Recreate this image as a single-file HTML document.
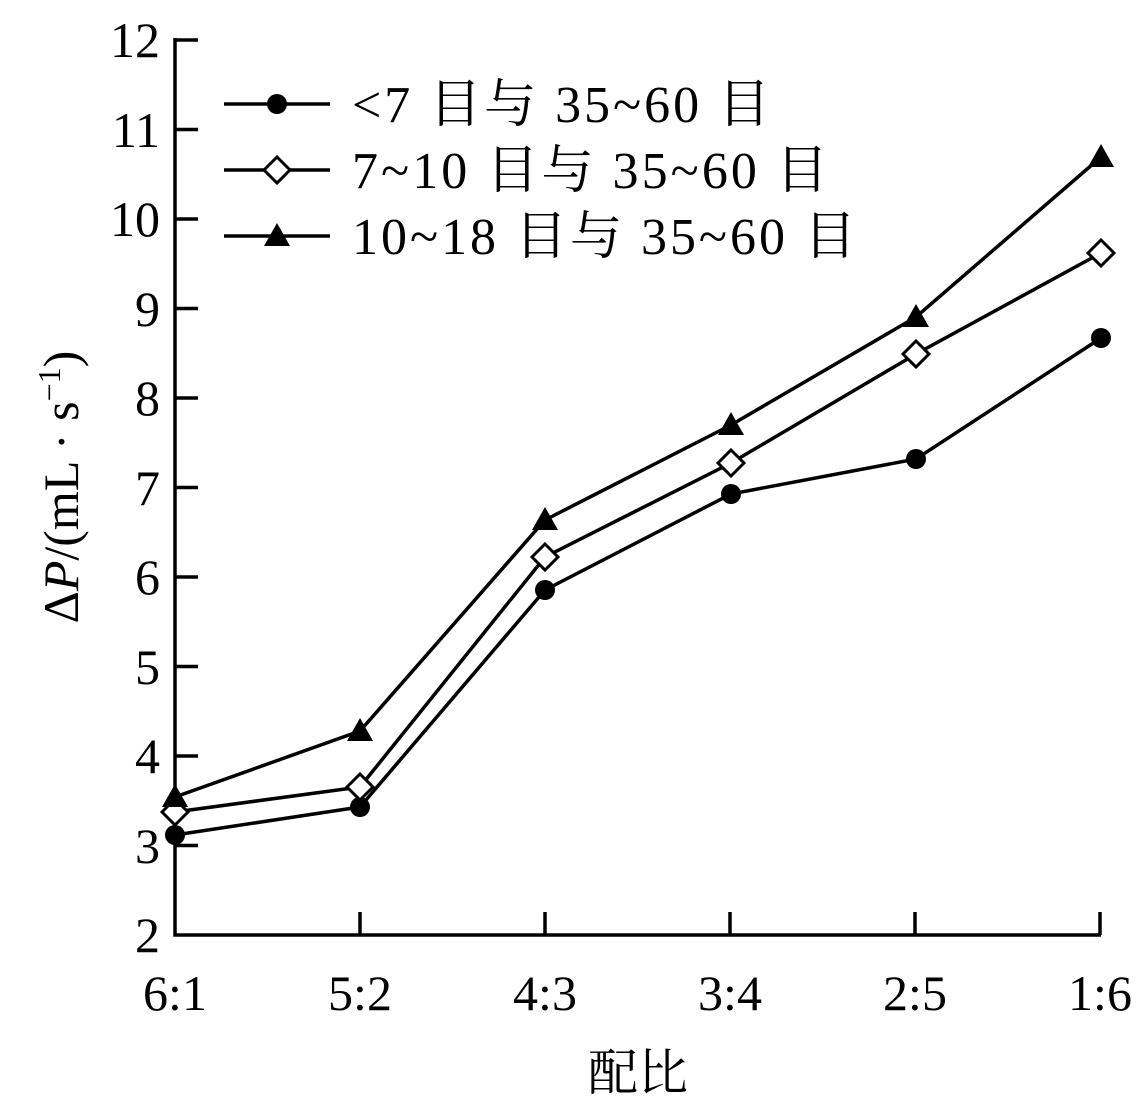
<!DOCTYPE html>
<html><head><meta charset="utf-8"><style>
body{margin:0;background:#fff}
svg text{font-family:"Liberation Serif","Noto Serif CJK SC",serif;fill:#000}
</style></head><body>
<svg width="1138" height="1109" viewBox="0 0 1138 1109" xmlns="http://www.w3.org/2000/svg">
<g stroke="#000" stroke-width="3.5" fill="none">
<polyline points="175,38 175,935 1101,935"/>
<line x1="175" y1="40" x2="198" y2="40"/><line x1="175" y1="129.5" x2="198" y2="129.5"/>
<line x1="175" y1="219" x2="198" y2="219"/><line x1="175" y1="308.5" x2="198" y2="308.5"/>
<line x1="175" y1="398" x2="198" y2="398"/><line x1="175" y1="487.5" x2="198" y2="487.5"/>
<line x1="175" y1="577" x2="198" y2="577"/><line x1="175" y1="666.5" x2="198" y2="666.5"/>
<line x1="175" y1="756" x2="198" y2="756"/><line x1="175" y1="845.5" x2="198" y2="845.5"/>
<line x1="360" y1="935" x2="360" y2="912"/><line x1="545" y1="935" x2="545" y2="912"/>
<line x1="730" y1="935" x2="730" y2="912"/><line x1="915" y1="935" x2="915" y2="912"/>
<line x1="1100" y1="935" x2="1100" y2="912"/>
<polyline points="175,835 360,807 545,590 731,494 916,459 1101,338"/>
<polyline points="175,812 360,787 545,557 731,463 916,354 1101,253"/>
<polyline points="175,797 360,731 545,520 731,425 916,317 1101,157"/>
<line x1="224" y1="104" x2="330" y2="104"/>
<line x1="224" y1="170" x2="330" y2="170"/>
<line x1="224" y1="236" x2="330" y2="236"/>
</g>
<g fill="#000">
<circle cx="175" cy="835" r="10"/><circle cx="360" cy="807" r="10"/><circle cx="545" cy="590" r="10"/>
<circle cx="731" cy="494" r="10"/><circle cx="916" cy="459" r="10"/><circle cx="1101" cy="338" r="10"/>
<circle cx="277" cy="104" r="10"/>
</g>
<g fill="#fff" stroke="#000" stroke-width="3">
<polygon points="175,799 188,812 175,825 162,812"/><polygon points="360,774 373,787 360,800 347,787"/>
<polygon points="545,544 558,557 545,570 532,557"/><polygon points="731,450 744,463 731,476 718,463"/>
<polygon points="916,341 929,354 916,367 903,354"/><polygon points="1101,240 1114,253 1101,266 1088,253"/>
<polygon points="277,157 290,170 277,183 264,170"/>
</g>
<g fill="#000">
<polygon points="175,784 188,807 162,807"/><polygon points="360,718 373,741 347,741"/>
<polygon points="545,507 558,530 532,530"/><polygon points="731,412 744,435 718,435"/>
<polygon points="916,304 929,327 903,327"/><polygon points="1101,144 1114,167 1088,167"/>
<polygon points="277,223 290,246 264,246"/>
</g>
<g font-size="50" text-anchor="end">
<text x="160" y="57">12</text><text x="160" y="147">11</text><text x="160" y="236">10</text>
<text x="160" y="326">9</text><text x="160" y="415">8</text><text x="160" y="505">7</text>
<text x="160" y="594">6</text><text x="160" y="684">5</text><text x="160" y="773">4</text>
<text x="160" y="863">3</text><text x="160" y="952">2</text>
</g>
<g font-size="50" text-anchor="middle">
<text x="175" y="1010">6:1</text><text x="360" y="1010">5:2</text><text x="545" y="1010">4:3</text>
<text x="730" y="1010">3:4</text><text x="915" y="1010">2:5</text><text x="1100" y="1010">1:6</text>
<text x="638" y="1090">配比</text>
</g>
<g font-size="52">
<text x="352" y="122" textLength="418" lengthAdjust="spacing">&lt;7 目与 35~60 目</text>
<text x="352" y="188" textLength="476" lengthAdjust="spacing">7~10 目与 35~60 目</text>
<text x="352" y="254" textLength="504" lengthAdjust="spacing">10~18 目与 35~60 目</text>
</g>
<text font-size="50" transform="translate(78,487) rotate(-90)" text-anchor="middle">Δ<tspan font-style="italic">P</tspan>/(mL · s<tspan font-size="32" dy="-18">−1</tspan><tspan dy="18">)</tspan></text>
</svg>
</body></html>
